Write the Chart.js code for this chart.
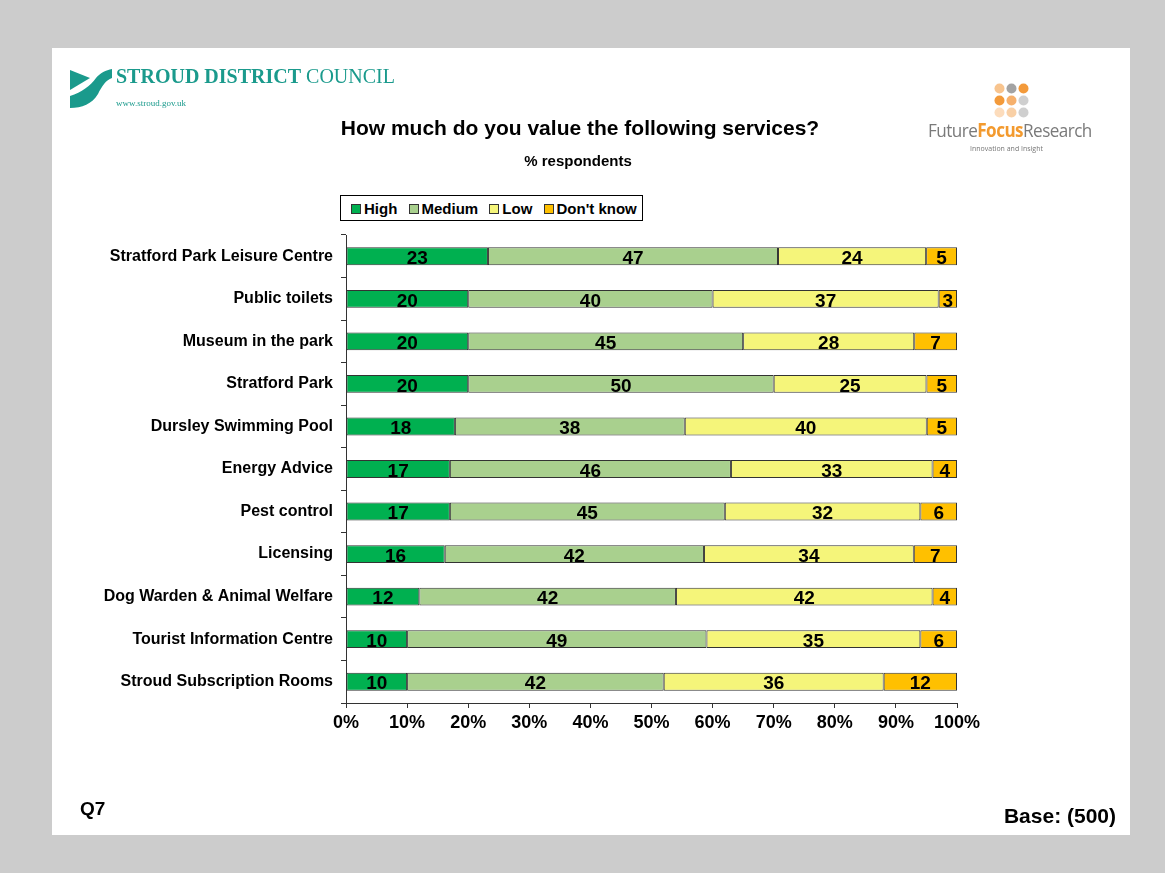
<!DOCTYPE html>
<html>
<head>
<meta charset="utf-8">
<script src="https://cdn.jsdelivr.net/npm/chart.js@4.4.1/dist/chart.umd.min.js"></script>
<style>
  html, body { margin:0; padding:0; }
  body { width:1165px; height:873px; background:#cccccc; position:relative; overflow:hidden; font-family:"Liberation Sans", Arial, sans-serif; }
  #panel { position:absolute; left:52px; top:48px; width:1078px; height:787px; background:#ffffff; }
  #c { position:absolute; left:0; top:0; }
  .abs { position:absolute; white-space:nowrap; }
  #title { left:0; width:1160px; text-align:center; top:116px; font-weight:bold; font-size:21px; color:#000; }
  #sub { left:0; width:1156px; text-align:center; top:152px; font-weight:bold; font-size:15px; color:#000; }
  #legend { left:340px; top:195px; width:303px; height:26px; border:1px solid #000; background:#fff; font-weight:bold; font-size:15px; line-height:25px; box-sizing:border-box; padding-left:10px; }
  #legend span.item { margin-right:7px; }
  #legend span.sw { display:inline-block; width:8px; height:8px; border:1px solid #333; margin-right:3px; vertical-align:0px; }
  #q7 { left:80px; top:798px; font-weight:bold; font-size:19px; }
  #base { right:49px; top:804px; font-weight:bold; font-size:21px; }
  #sdc1 { left:116px; top:65px; font-family:"Liberation Serif","DejaVu Serif",serif; font-size:20px; color:#1a9a8c; }
  #sdc2 { left:116px; top:98px; font-family:"Liberation Serif","DejaVu Serif",serif; font-size:9px; color:#1a9a8c; }
  #ffr { left:928px; top:117px; font-family:"Open Sans","Noto Sans",sans-serif; font-size:19px; color:#7a7a7a; letter-spacing:-0.6px; transform:scaleX(0.9); transform-origin:left top; }
  #ffr b { color:#f39a2e; }
  #ffr2 { left:970px; top:144px; font-family:"Open Sans","Noto Sans",sans-serif; font-size:7px; color:#777; }
</style>
</head>
<body>
<div id="panel"></div>
<canvas id="c" width="1165" height="873"></canvas>

<svg class="abs" style="left:68px;top:66px" width="46" height="46" viewBox="0 0 46 46">
  <path d="M2 4 L22 12 L2 24 Z" fill="#1a9a8c"/>
  <path d="M2 30 C14 26 22 20 28 12 C32 7 38 4 44 3 L44 12 C38 14 34 20 30 28 C24 38 14 42 2 42 Z" fill="#1a9a8c"/>
</svg>
<div id="sdc1" class="abs"><b>STROUD DISTRICT</b> COUNCIL</div>
<div id="sdc2" class="abs">www.stroud.gov.uk</div>

<svg class="abs" style="left:992px;top:81px" width="40" height="40" viewBox="0 0 40 40">
  <circle cx="7.5" cy="7.5" r="5" fill="#f8c48e"/>
  <circle cx="19.5" cy="7.5" r="5" fill="#a3a3a3"/>
  <circle cx="31.5" cy="7.5" r="5" fill="#f39a3a"/>
  <circle cx="7.5" cy="19.5" r="5" fill="#f39a3a"/>
  <circle cx="19.5" cy="19.5" r="5" fill="#f6b06c"/>
  <circle cx="31.5" cy="19.5" r="5" fill="#cfcfcf"/>
  <circle cx="7.5" cy="31.5" r="5" fill="#fcdcbc"/>
  <circle cx="19.5" cy="31.5" r="5" fill="#f9d0a6"/>
  <circle cx="31.5" cy="31.5" r="5" fill="#cfcfcf"/>
</svg>
<div id="ffr" class="abs">Future<b>Focus</b>Research</div>
<div id="ffr2" class="abs">Innovation and Insight</div>

<div id="title" class="abs">How much do you value the following services?</div>
<div id="sub" class="abs">% respondents</div>
<div id="legend" class="abs">
  <span class="item"><span class="sw" style="background:#00b050"></span>High</span>
  <span class="item"><span class="sw" style="background:#a9d08e"></span>Medium</span>
  <span class="item"><span class="sw" style="background:#f5f57a"></span>Low</span>
  <span class="item"><span class="sw" style="background:#ffc000"></span>Don't know</span>
</div>
<div id="q7" class="abs">Q7</div>
<div id="base" class="abs">Base: (500)</div>

<script>
const categories = [
  "Stratford Park Leisure Centre",
  "Public toilets",
  "Museum in the park",
  "Stratford Park",
  "Dursley Swimming Pool",
  "Energy Advice",
  "Pest control",
  "Licensing",
  "Dog Warden & Animal Welfare",
  "Tourist Information Centre",
  "Stroud Subscription Rooms"
];
const high     = [23, 20, 20, 20, 18, 17, 17, 16, 12, 10, 10];
const medium   = [47, 40, 45, 50, 38, 46, 45, 42, 42, 49, 42];
const low      = [24, 37, 28, 25, 40, 33, 32, 34, 42, 35, 36];
const dontKnow = [5, 3, 7, 5, 5, 4, 6, 7, 4, 6, 12];
const xTickLabels = ["0%","10%","20%","30%","40%","50%","60%","70%","80%","90%","100%"];

const seriesNames = ["High", "Medium", "Low", "Don't know"];
const seriesRaw = [high, medium, low, dontKnow];
const colors = ["#00b050", "#a9d08e", "#f5f57a", "#ffc000"];

// 100% stacked: each row scaled to its total
const totals = categories.map((_, i) => seriesRaw.reduce((s, a) => s + a[i], 0));
const datasets = seriesRaw.map((arr, k) => ({
  label: seriesNames[k],
  data: arr.map((v, i) => v / totals[i] * 100),
  raw: arr,
  backgroundColor: colors[k],
  borderColor: "#333333",
  borderWidth: 1,
  borderSkipped: false,
  barPercentage: 0.42,
  categoryPercentage: 1.0
}));

const labelPlugin = {
  id: "barLabels",
  afterDatasetsDraw(chart) {
    const ctx = chart.ctx;
    ctx.save();
    ctx.font = "bold 19px 'Liberation Sans', Arial, sans-serif";
    ctx.fillStyle = "#000";
    ctx.textAlign = "center";
    ctx.textBaseline = "middle";
    chart.data.datasets.forEach((ds, di) => {
      const meta = chart.getDatasetMeta(di);
      meta.data.forEach((bar, i) => {
        const cx = (bar.x + bar.base) / 2;
        ctx.fillText(String(ds.raw[i]), cx, bar.y + 2.5);
      });
    });
    ctx.restore();
  }
};

new Chart(document.getElementById("c"), {
  type: "bar",
  data: { labels: categories, datasets: datasets },
  plugins: [labelPlugin],
  options: {
    indexAxis: "y",
    responsive: false,
    animation: false,
    devicePixelRatio: 1,
    layout: { padding: { left: 0, top: 235, right: 208, bottom: 130 } },
    plugins: { legend: { display: false }, tooltip: { enabled: false }, title: { display: false } },
    scales: {
      x: {
        stacked: true,
        min: 0, max: 100,
        afterFit(scale) { scale.height = 40; },
        afterBuildTicks(scale) { scale.ticks = xTickLabels.map((_, i) => ({ value: i * 10 })); },
        ticks: {
          callback: (v, i) => xTickLabels[i],
          color: "#000",
          font: { family: "'Liberation Sans', Arial, sans-serif", size: 18, weight: "bold" },
          padding: 4,
          maxRotation: 0,
          autoSkip: false
        },
        grid: { drawOnChartArea: false, drawTicks: true, tickLength: 5, color: "#333" },
        border: { display: true, color: "#333", width: 1 }
      },
      y: {
        stacked: true,
        afterFit(scale) { scale.width = 346; },
        ticks: {
          color: "#000",
          font: { family: "'Liberation Sans', Arial, sans-serif", size: 16, weight: "bold" },
          padding: 8,
          autoSkip: false
        },
        grid: { drawOnChartArea: false, drawTicks: true, tickLength: 5, color: "#333", offset: true },
        border: { display: true, color: "#333", width: 1 }
      }
    }
  }
});
</script>
</body>
</html>
